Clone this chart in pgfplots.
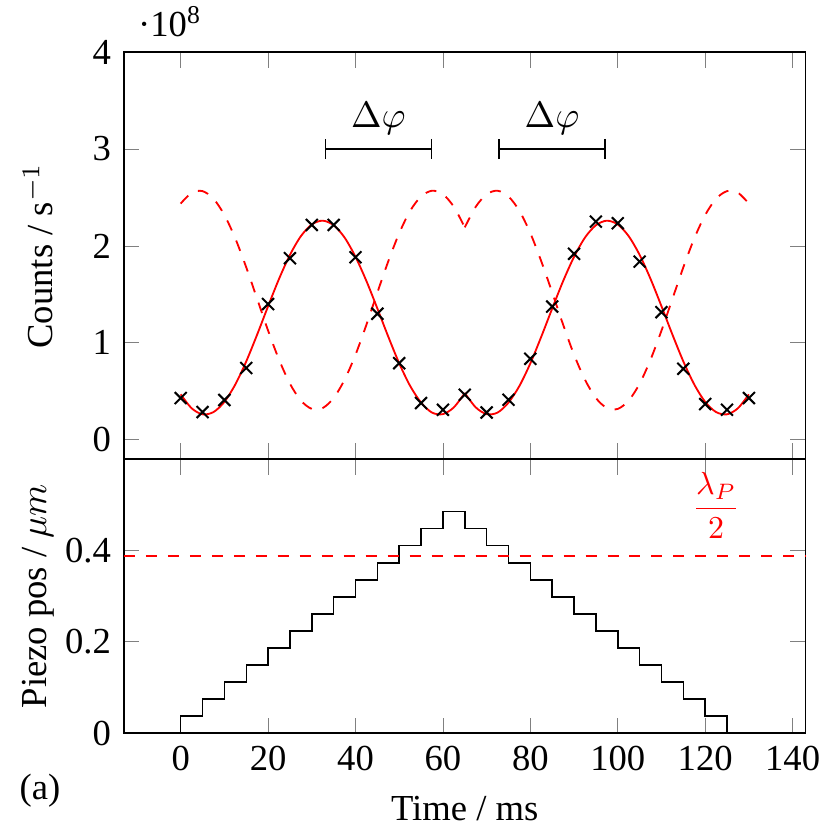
\documentclass[border=0pt]{standalone}
\usepackage{fontspec}
\setmainfont{Liberation Serif}
\usepackage{amsmath}
\usepackage{pgfplots}
\pgfplotsset{compat=1.18}
\usetikzlibrary{arrows.meta}
\begin{document}
\begin{tikzpicture}
\pgfplotsset{every axis/.append style={/pgf/number format/assume math mode=true}}
\begin{axis}[name=top, scale only axis, width=186.1pt, height=111.1pt,
  xmin=-13, xmax=143, ymin=-0.2, ymax=4,
  xtick={0,20,...,140}, xticklabels={},
  ytick={0,1,2,3,4},
  ylabel={Counts / s$^{-1}$},
  ylabel style={at={(axis description cs:-0.126,0.5)}, anchor=center},
  clip=false]
\addplot[red, line width=0.5pt, smooth, no marks] coordinates {
(0,0.468)(2.5,0.325)(5,0.262)(7.5,0.285)(10,0.390)(12.5,0.570)(15,0.808)(17.5,1.085)(20,1.377)(22.5,1.659)(25,1.907)(27.5,2.100)(30,2.221)(32.5,2.260)(35,2.213)(37.5,2.086)(40,1.887)(42.5,1.637)(45,1.354)(47.5,1.063)(50,0.788)(52.5,0.555)(55,0.383)(57.5,0.280)(60,0.264)(62.5,0.334)(65,0.482)};
\addplot[red, line width=0.5pt, smooth, no marks] coordinates {
(65,0.482)(67.5,0.334)(70,0.264)(72.5,0.280)(75,0.383)(77.5,0.555)(80,0.788)(82.5,1.063)(85,1.354)(87.5,1.637)(90,1.887)(92.5,2.086)(95,2.213)(97.5,2.260)(100,2.221)(102.5,2.100)(105,1.907)(107.5,1.659)(110,1.377)(112.5,1.085)(115,0.808)(117.5,0.570)(120,0.390)(122.5,0.285)(125,0.262)(127.5,0.325)(130,0.468)};
\addplot[red, line width=0.5pt, dashed, smooth, no marks] coordinates {
(0,2.436)(2.5,2.548)(5,2.565)(7.5,2.487)(10,2.319)(12.5,2.077)(15,1.779)(17.5,1.453)(20,1.126)(22.5,0.827)(25,0.578)(27.5,0.404)(30,0.318)(32.5,0.327)(35,0.430)(37.5,0.619)(40,0.877)(42.5,1.187)(45,1.519)(47.5,1.841)(50,2.131)(52.5,2.361)(55,2.510)(57.5,2.569)(60,2.533)(62.5,2.403)(65,2.191)};
\addplot[red, line width=0.5pt, dashed, smooth, no marks] coordinates {
(65,2.191)(67.5,2.403)(70,2.533)(72.5,2.569)(75,2.510)(77.5,2.361)(80,2.131)(82.5,1.841)(85,1.519)(87.5,1.187)(90,0.877)(92.5,0.619)(95,0.430)(97.5,0.327)(100,0.318)(102.5,0.404)(105,0.578)(107.5,0.827)(110,1.126)(112.5,1.453)(115,1.779)(117.5,2.077)(120,2.319)(122.5,2.487)(125,2.565)(127.5,2.548)(130,2.436)};
\addplot[black, only marks, mark=x, mark size=2.3pt, mark options={line width=0.55pt}] coordinates {
(0,0.43)(5,0.285)(10,0.41)(15,0.74)(20,1.40)(25,1.873)(30,2.216)(35,2.216)(40,1.883)(45,1.30)(50,0.79)(55,0.378)(60,0.309)(65,0.464)(70,0.281)(75,0.412)(80,0.835)(85,1.374)(90,1.918)(95,2.25)(100,2.234)(105,1.838)(110,1.316)(115,0.732)(120,0.368)(125,0.309)(130,0.43)};
\draw[{Bar[width=5.5pt]}-{Bar[width=5.5pt]}] (axis cs:33,3) -- (axis cs:57.5,3) node[midway, above=0.5pt] {$\Delta\varphi$};
\draw[{Bar[width=5.5pt]}-{Bar[width=5.5pt]}] (axis cs:72.7,3) -- (axis cs:97.2,3) node[midway, above=0.5pt] {$\Delta\varphi$};
\node[anchor=south west, inner sep=0pt] at (rel axis cs:0.02,1.035) {·10\textsuperscript{8}};
\end{axis}
\begin{axis}[name=bot, at={(top.south west)}, anchor=north west,
  scale only axis, width=186.1pt, height=74.8pt,
  xmin=-13, xmax=143, ymin=0, ymax=0.6,
  xtick={0,20,...,140}, ytick={0,0.2,0.4},
  xlabel={Time / ms},
  ylabel={Piezo pos / $\mu m$},
  ylabel style={at={(axis description cs:-0.126,0.5)}, anchor=center},
  clip=false]
\addplot[black, const plot, no marks] coordinates {
(0,0)(0,0.0373)(5,0.0746)(10,0.1119)(15,0.1492)(20,0.1865)(25,0.2238)(30,0.2611)(35,0.2984)(40,0.3357)(45,0.3730)(50,0.4103)(55,0.4476)(60,0.4849)(65,0.4476)(70,0.4103)(75,0.3730)(80,0.3357)(85,0.2984)(90,0.2611)(95,0.2238)(100,0.1865)(105,0.1492)(110,0.1119)(115,0.0746)(120,0.0373)(125,0)};
\addplot[red, line width=0.5pt, dashed, no marks] coordinates {(-13,0.3875)(143,0.3875)};
\node[red, anchor=south, inner sep=1pt, scale=0.87] at (axis cs:122.5,0.418) {$\dfrac{\lambda_P}{2}$};
\node at (rel axis cs:-0.123,-0.21) {(a)};
\end{axis}
\pgfresetboundingbox
\path ([shift={(-33.8pt,14.2pt)}]top.north west) rectangle ([shift={(6.5pt,-26.7pt)}]bot.south east);
\end{tikzpicture}
\end{document}
